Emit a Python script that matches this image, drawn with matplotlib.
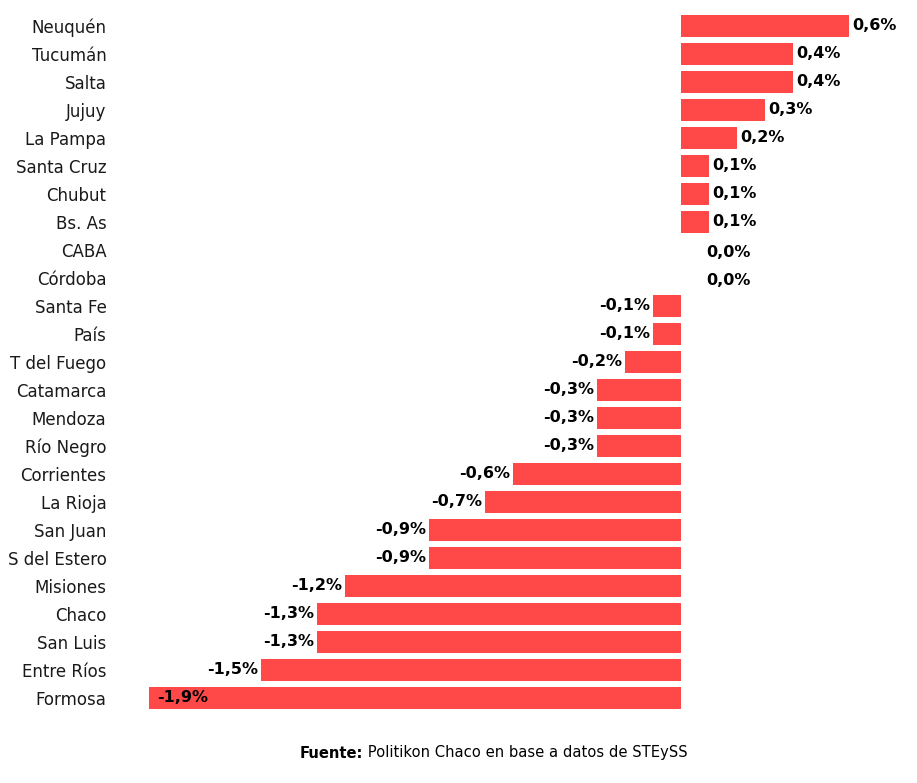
import matplotlib
matplotlib.use("Agg")
import matplotlib.pyplot as plt

provincias = ["Neuquén", "Tucumán", "Salta", "Jujuy", "La Pampa", "Santa Cruz", "Chubut",
              "Bs. As", "CABA", "Córdoba", "Santa Fe", "País", "T del Fuego", "Catamarca",
              "Mendoza", "Río Negro", "Corrientes", "La Rioja", "San Juan", "S del Estero",
              "Misiones", "Chaco", "San Luis", "Entre Ríos", "Formosa"]
variacion = [0.6, 0.4, 0.4, 0.3, 0.2, 0.1, 0.1, 0.1, 0.0, 0.0, -0.1, -0.1, -0.2, -0.3,
             -0.3, -0.3, -0.6, -0.7, -0.9, -0.9, -1.2, -1.3, -1.3, -1.5, -1.9]
fuente = "Politikon Chaco en base a datos de STEySS"

rojo = "#FF4949"
W, H = 917, 783

plt.rcParams['font.family'] = ['DejaVu Sans']
fig = plt.figure(figsize=(W / 100, H / 100), dpi=100)
ax = fig.add_axes([121 / W, (H - 712) / H, 784 / W, 700 / H])

pos = list(range(len(provincias)))
ax.barh(pos, variacion, height=0.8, color=rojo)
ax.set_xlim(-2.0, 0.8)
ax.set_ylim(len(provincias) - 0.5, -0.5)

ax.set_yticks(pos)
ax.set_yticklabels(provincias, fontsize=12, color="#1a1a1a")
ax.tick_params(axis='y', length=0, pad=10.5)
ax.set_xticks([])
for s in ax.spines.values():
    s.set_visible(False)

for y, v in zip(pos, variacion):
    txt = f"{v:.1f}%".replace(".", ",")
    if v > 0:
        ax.text(v + 0.01, y, txt, ha='left', va='center', fontsize=11.5, fontweight='bold')
    elif v == 0:
        ax.text(0.09, y + 0.1, txt, ha='left', va='center', fontsize=11.5, fontweight='bold')
    elif v <= -1.8:
        ax.text(v + 0.03, y, txt, ha='left', va='center', fontsize=11.5, fontweight='bold')
    else:
        ax.text(v - 0.01, y, txt, ha='right', va='center', fontsize=11.5, fontweight='bold')

fig.text(0.396, (H - 753) / H, "Fuente:", ha='right', va='center', fontsize=10.6, fontweight='bold')
fig.text(0.396, (H - 753) / H, " " + fuente, ha='left', va='center', fontsize=10.6)

fig.savefig("out.png", dpi=100, facecolor="white")
